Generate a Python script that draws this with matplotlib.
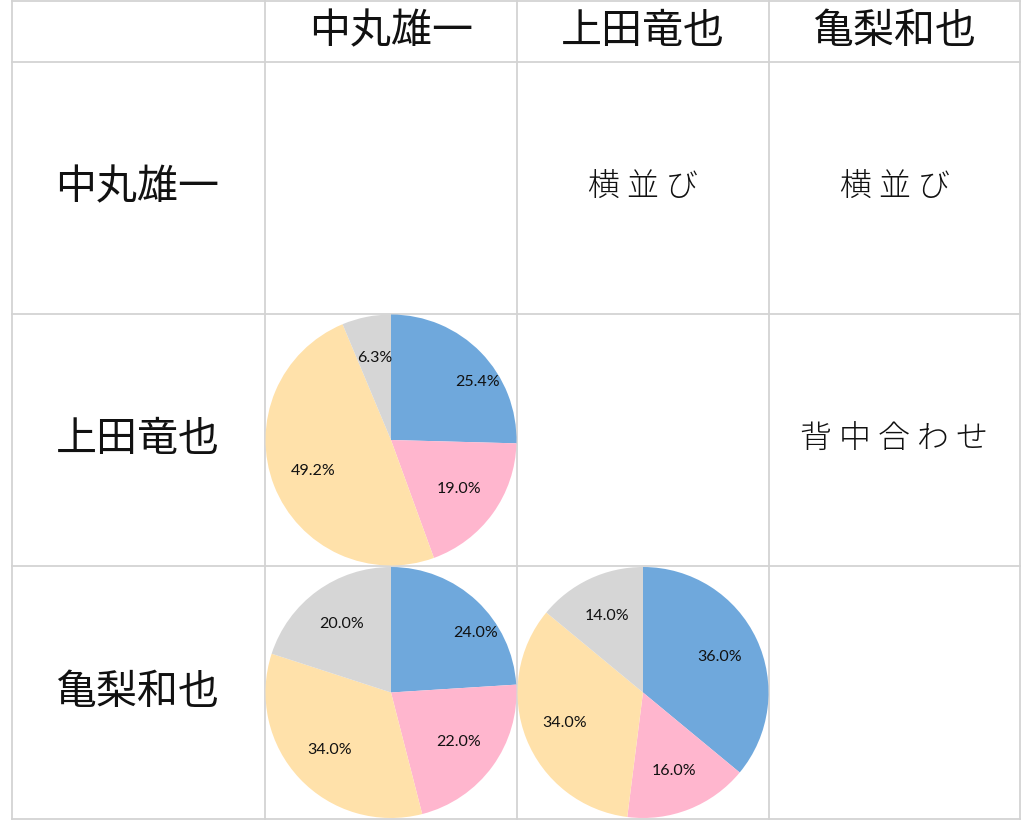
import matplotlib
matplotlib.use("Agg")
import matplotlib.pyplot as plt
import numpy as np

plt.rcParams['font.family'] = ['Noto Sans CJK JP', 'DejaVu Sans']

members = ["中丸雄一", "上田竜也", "亀梨和也"]
# relationship text cells: (row, col) -> text
text_cells = {(0, 1): "横並び", (0, 2): "横並び", (1, 2): "背中合わせ"}
# pie cells: (row, col) -> values (blue, pink, yellow, gray) in percent
pie_ueda_nakamaru = [25.4, 19.0, 49.2, 6.3]
pie_kamenashi_nakamaru = [24.0, 22.0, 34.0, 20.0]
pie_kamenashi_ueda = [36.0, 16.0, 34.0, 14.0]
pie_cells = {(1, 0): pie_ueda_nakamaru,
             (2, 0): pie_kamenashi_nakamaru,
             (2, 1): pie_kamenashi_ueda}
colors = ["#6FA8DC", "#FFB6CE", "#FFE1AA", "#D6D6D6"]
# label placement overrides (style): (pie cell, wedge index) -> (angle deg, fraction of radius)
label_override = {((1, 0), 0): (34, 0.83), ((2, 0), 0): (35, 0.82)}

W, H = 1024, 825
fig = plt.figure(figsize=(W / 100, H / 100), dpi=100)
ax = fig.add_axes([0, 0, 1, 1])
ax.set_xlim(0, W)
ax.set_ylim(0, H)
ax.set_aspect('equal')
ax.axis('off')

col_edges = [12, 265, 517, 769, 1020]
row_edges = [1, 62, 314, 566, 819]  # from top
line_kw = dict(color="#d3d3d3", lw=1.3, zorder=1)
for x in col_edges:
    ax.plot([x, x], [H - row_edges[0], H - row_edges[-1]], **line_kw)
for y in row_edges:
    ax.plot([col_edges[0], col_edges[-1]], [H - y, H - y], **line_kw)

def cell_center(r, c):
    cx = (col_edges[c] + col_edges[c + 1]) / 2
    cy = H - (row_edges[r] + row_edges[r + 1]) / 2
    return cx, cy

for i, name in enumerate(members):
    cx, cy = cell_center(0, i + 1)
    ax.text(cx, cy, name, ha='center', va='center', fontsize=29.5,
            color='#111111', fontweight='normal')
    cx, cy = cell_center(i + 1, 0)
    ax.text(cx - 1, cy, name, ha='center', va='center', fontsize=29.5,
            color='#111111', fontweight='normal')

for (r, c), t in text_cells.items():
    cx, cy = cell_center(r + 1, c + 1)
    ax.text(cx, cy, " ".join(t), ha='center', va='center', fontsize=23,
            color='#111111', fontweight='light')

R = 125.5
for (r, c), vals in pie_cells.items():
    cx, cy = cell_center(r + 1, c + 1)
    wedges, texts, autotexts = ax.pie(
        vals, colors=colors, startangle=90, counterclock=False,
        center=(cx, cy), radius=R, autopct='%1.1f%%', pctdistance=0.67,
        normalize=True, frame=True,
        wedgeprops=dict(linewidth=0),
        textprops=dict(fontsize=11.5, color='#111111', family=['Lato', 'DejaVu Sans']))
    for w in wedges:
        w.set_zorder(2)
    for k, t in enumerate(autotexts):
        t.set_zorder(3)
        if ((r, c), k) in label_override:
            ang, frac = label_override[((r, c), k)]
            t.set_position((cx + frac * R * np.cos(np.radians(ang)),
                            cy + frac * R * np.sin(np.radians(ang))))

ax.set_xlim(0, W)
ax.set_ylim(0, H)
ax.axis('off')
fig.savefig("out.png", dpi=100)
